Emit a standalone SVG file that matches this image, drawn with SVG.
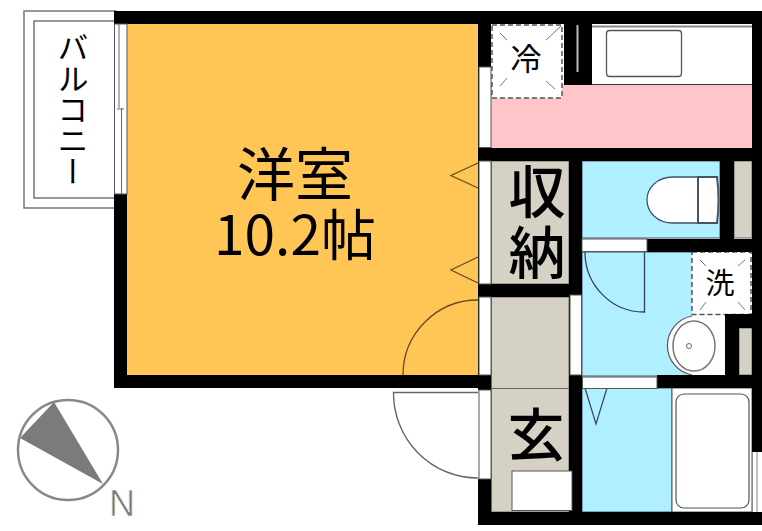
<svg xmlns="http://www.w3.org/2000/svg" width="762" height="531" viewBox="0 0 762 531">
<style>
.wall{fill:#000}
.win{fill:#fff;stroke:#555;stroke-width:1}
.tan{fill:#d5d2c5;stroke:#666;stroke-width:1}
.blue{fill:#b0efff;stroke:#456;stroke-width:1}
.brn{fill:none;stroke:#6b4a1e;stroke-width:1.3}
.dash{fill:#fff;stroke:#555;stroke-width:1.5;stroke-dasharray:5 3}
.cr{stroke:#777;stroke-width:1;fill:none}
text{font-family:"Noto Sans CJK JP","Liberation Sans",sans-serif;fill:#000;text-anchor:middle}
.big{font-size:57px;font-weight:500}
.mid{font-size:31px}
</style>
<rect width="762" height="531" fill="#fff"/>
<g id="balcony">
<rect x="24" y="11" width="92" height="197" fill="#fff" stroke="#777" stroke-width="1.500"/>
<rect x="34" y="21" width="82" height="177" fill="#fff" stroke="#555" stroke-width="1.200"/>
<text x="73" y="32" style="font-size:31px;writing-mode:vertical-rl;text-anchor:start">バルコニー</text>
</g>
<g id="western-room">
<rect x="127" y="24" width="351" height="351" fill="#ffc655"/>
<path class="brn" d="M478 163 451 175.500 478 188M478 257 451 270 478 283M478 300A75 75 0 0 0 403 375"/>
<text style="font-size:58px"><tspan x="295" y="196">洋室</tspan><tspan x="295" y="255" style="font-size:55px">10.2帖</tspan></text>
</g>
<g id="kitchen">
<rect x="491" y="84" width="261" height="64" fill="#ffc5c8"/>
<rect x="592" y="24" width="160" height="60" fill="#fff"/>
<path d="M592 84.500H752" stroke="#333" stroke-width="1"/>
<path d="M592 26.500H752" stroke="#888" stroke-width="2"/>
<rect x="606.500" y="30.500" width="75" height="46" rx="3" fill="#fff" stroke="#555" stroke-width="1.300"/>
</g>
<g id="fridge">
<rect class="dash" x="492" y="25" width="70" height="73"/>
<path class="cr" d="M500 33 507 40M561 26 546 40M507 78 500 86M546 81 555 89"/>
<text class="mid" x="526" y="70">冷</text>
</g>
<g id="closet">
<rect class="tan" x="491.500" y="161" width="77.500" height="123"/>
<text class="big"><tspan x="537" y="213">収</tspan><tspan x="537" y="274">納</tspan></text>
</g>
<g id="entry">
<rect class="tan" x="491.500" y="297" width="77.500" height="215"/>
<path d="M491 388.500H569" stroke="#666" stroke-width="1"/>
<text class="big" x="536" y="456">玄</text>
</g>
<g id="toilet">
<rect class="blue" x="582" y="161" width="138" height="77"/>
<path d="M698 177H673C657 177 647 188 647 200S657 223 673 223H698Z" fill="#fff" stroke="#456" stroke-width="1.300"/>
<path d="M698 177H717Q720 200 717 223H698Z" fill="#fff" stroke="#456" stroke-width="2"/>
<rect class="tan" x="734" y="161" width="18" height="77"/>
</g>
<g id="washroom">
<rect class="blue" x="582" y="252" width="143" height="124"/>
<path d="M692 315H725V375H692Z" fill="#fff"/>
<path d="M692 316A30 30 0 0 0 692 375" fill="#fff" stroke="#555" stroke-width="1.200"/>
<ellipse cx="694" cy="346" rx="21" ry="25" fill="#fff" stroke="#777" stroke-width="1.500"/>
<circle cx="689" cy="346" r="2.500" fill="#fff" stroke="#666" stroke-width="1"/>
<rect class="tan" x="739" y="328" width="13" height="47"/>
<path d="M644.500 252V312A59 60 0 0 1 585 252" fill="none" stroke="#345" stroke-width="1.300"/>
</g>
<g id="washer">
<rect class="dash" x="692" y="252" width="59" height="62.500"/>
<path class="cr" d="M700 260 706 266M745 260 738 266M700 310 706 302M745 310 738 302"/>
<text class="mid" x="720" y="294" style="font-size:29px">洗</text>
</g>
<g id="bath">
<rect class="blue" x="582" y="388" width="90" height="124"/>
<rect x="672" y="388" width="80" height="124" fill="#fff" stroke="#456" stroke-width="1"/>
<rect x="676" y="394" width="73" height="114" rx="8" fill="#fff" stroke="#555" stroke-width="1.200"/>
<path d="M585 388 596 424 607 388" fill="none" stroke="#345" stroke-width="1.200"/>
</g>
<g id="walls" class="wall">
<rect x="114" y="11" width="648" height="13"/>
<rect x="114" y="194" width="13" height="194"/>
<rect x="114" y="375" width="377" height="13"/>
<rect x="478" y="11" width="13" height="379"/>
<rect x="752" y="11" width="10" height="441"/>
<rect x="478" y="148" width="284" height="13"/>
<rect x="564" y="11" width="28" height="74"/>
<rect x="720" y="148" width="14" height="104"/>
<rect x="647" y="239" width="115" height="13"/>
<rect x="725" y="314" width="27" height="14"/>
<rect x="725" y="314" width="14" height="74"/>
<rect x="657" y="375" width="105" height="13"/>
<rect x="569" y="150" width="13" height="362"/>
<rect x="478" y="284" width="104" height="13"/>
<rect x="478" y="479" width="13" height="46"/>
<rect x="478" y="512" width="284" height="13"/>
<rect x="576.500" y="25" width="2" height="47" fill="#bbb"/>
</g>
<g id="openings">
<rect class="win" x="114.500" y="24" width="12.500" height="170"/>
<path d="M119 24V108M121.500 108V194M117 109H124" stroke="#666" stroke-width="1" fill="none"/>
<rect class="win" x="479" y="67" width="12" height="80.500"/>
<rect class="win" x="479" y="161" width="12" height="123"/>
<rect class="win" x="479" y="297" width="12" height="78"/>
<rect class="win" x="479" y="390" width="12" height="89"/>
<rect class="win" x="570" y="295" width="11.500" height="80"/>
<rect class="win" x="582" y="239" width="65" height="12.500"/>
<rect class="win" x="582.500" y="377" width="74.500" height="11.500"/>
<rect x="752" y="452" width="10" height="60" fill="#fff"/>
<path d="M752.500 452V512M757 452V512" stroke="#888" stroke-width="1"/>
</g>
<g id="shoe-cabinet">
<rect x="512" y="471" width="60" height="39.500" fill="#fff" stroke="#555" stroke-width="1"/>
</g>
<g id="entrance-door">
<path d="M478 392.500H393.500A85 85 0 0 0 478 478" fill="none" stroke="#666" stroke-width="1.400"/>
</g>
<g id="compass">
<circle cx="68" cy="450" r="50" fill="#fff" stroke="#888" stroke-width="2.500"/>
<path d="M54 402 20 438 103 484Z" fill="#7b7b7b"/>
<text x="122" y="515.500" style="font-family:'Liberation Sans',sans-serif;font-size:36px;fill:#777;stroke:#fff;stroke-width:.6">N</text>
</g>
</svg>
